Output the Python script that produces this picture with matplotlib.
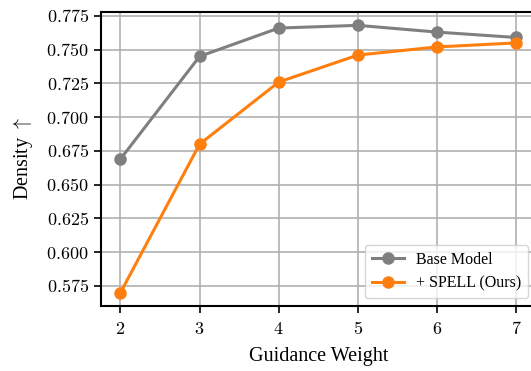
import matplotlib
matplotlib.use("Agg")
import matplotlib.pyplot as plt

weights = [2, 3, 4, 5, 6, 7]
base_model = [0.669, 0.745, 0.766, 0.768, 0.763, 0.759]
spell = [0.570, 0.680, 0.726, 0.746, 0.752, 0.755]
yticks = [0.575, 0.600, 0.625, 0.650, 0.675, 0.700, 0.725, 0.750, 0.775]

plt.rcParams['font.family'] = ['Liberation Serif', 'DejaVu Serif']
plt.rcParams['mathtext.fontset'] = 'cm'

fig = plt.figure(figsize=(5.31, 3.71), dpi=100)
ax = fig.add_axes([0.1896, 0.1752, 0.8198, 0.7925])

ax.plot(weights, base_model, color='#7f7f7f', lw=2.2, marker='o', ms=8, label='Base Model', zorder=3)
ax.plot(weights, spell, color='#ff7f0e', lw=2.2, marker='o', ms=8, label='+ SPELL (Ours)', zorder=3)

ax.set_xticks(weights)
ax.set_xticklabels([f'${w}$' for w in weights])
ax.set_yticks(yticks)
ax.set_yticklabels([f'${t:.3f}$' for t in yticks])
ax.tick_params(labelsize=13, length=5, width=1.2)
ax.tick_params(axis='x', pad=6)
ax.grid(True, color='#b0b0b0', lw=1.2, zorder=0)
ax.set_axisbelow(True)
for s in ax.spines.values():
    s.set_linewidth(1.5)

ax.set_xlabel('Guidance Weight', fontsize=14.5, labelpad=6)
ax.set_ylabel(r'Density $\uparrow$', fontsize=14.5, labelpad=8)
ax.legend(loc='lower right', fontsize=11.5)

fig.savefig('out.png', dpi=100)
